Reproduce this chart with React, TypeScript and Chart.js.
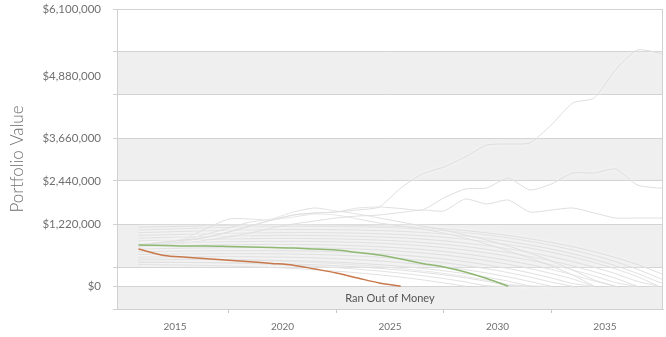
import React, { useEffect, useRef } from 'react';
import { Chart, registerables } from 'chart.js';

Chart.register(...registerables);

// x positions (years) of the yearly simulation points
const years = [2013.3, 2014.5, 2015.5, 2016.5, 2017.5, 2018.5, 2019.5, 2020.5, 2021.5, 2022.5, 2023.5, 2024.5, 2025.5,
  2026.5, 2027.5, 2028.5, 2029.5, 2030.5, 2031.5, 2032.5, 2033.5, 2034.5, 2035.5, 2036.5, 2037.5, 2038.5];

// highlighted scenarios, values in $ thousands
const medianK = [908, 897, 886, 886, 875, 864, 853, 842, 820, 798, 743, 688, 600, 501, 424, 314, 171, 0];
const worstK = [820, 675, 640, 607, 571, 538, 503, 464, 380, 292, 182, 72, 0];

// simulated scenarios (grey), values in $ thousands
const simA = [908, 974, 1018, 1084, 1194, 1326, 1458, 1568, 1612, 1634, 1678, 1744, 2162, 2470, 2624, 2844, 3108, 3130, 3152, 3548, 4032, 4142, 4769, 5198, 5132, 4978];
const simB = [886, 930, 996, 1084, 1194, 1326, 1458, 1568, 1612, 1634, 1722, 1744, 1711, 1678, 1942, 2140, 2162, 2382, 2118, 2250, 2492, 2492, 2580, 2228, 2162, 2162];
const simC = [864, 908, 952, 1018, 1084, 1172, 1282, 1370, 1436, 1502, 1546, 1568, 1623, 1678, 1656, 1920, 1810, 1898, 1634, 1678, 1722, 1612, 1502, 1502, 1502, 1502];
const simD = [908, 974, 1040, 1150, 1282, 1414, 1480, 1634, 1722, 1656, 1590, 1502, 1414, 1326, 1238, 1128, 1018, 886, 732, 556, 358, 138, 0];
const simE = [886, 952, 1062, 1282, 1480, 1480, 1458, 1524, 1590, 1568, 1480, 1392, 1326, 1260, 1172, 1062, 930, 776, 622, 446, 248, 0];
const sim01 = [1300, 1310, 1320, 1330, 1340, 1345, 1350, 1352, 1350, 1345, 1338, 1328, 1315, 1295, 1265, 1225, 1175, 1115, 1045, 965, 870, 760, 630, 480, 300, 100];
const sim02 = [1240, 1255, 1270, 1285, 1296, 1305, 1312, 1316, 1316, 1312, 1305, 1295, 1280, 1255, 1222, 1180, 1128, 1065, 990, 902, 800, 680, 540, 375, 185, 0];
const sim03 = [1180, 1195, 1210, 1222, 1232, 1240, 1246, 1250, 1250, 1246, 1238, 1226, 1210, 1186, 1152, 1108, 1054, 988, 910, 820, 715, 592, 450, 285, 95, 0];
const sim04 = [1120, 1132, 1144, 1155, 1164, 1172, 1178, 1181, 1180, 1176, 1168, 1156, 1139, 1114, 1080, 1036, 982, 917, 840, 750, 645, 522, 380, 215, 0];
const sim05 = [1060, 1072, 1084, 1095, 1104, 1111, 1116, 1118, 1116, 1110, 1100, 1086, 1066, 1038, 1000, 952, 894, 825, 744, 650, 542, 418, 276, 110, 0];
const sim06 = [1000, 1012, 1024, 1034, 1042, 1048, 1052, 1053, 1050, 1043, 1032, 1016, 994, 964, 924, 874, 813, 741, 657, 560, 448, 320, 175, 0];
const sim07 = [940, 952, 963, 972, 980, 986, 989, 990, 986, 978, 965, 948, 924, 892, 850, 798, 735, 660, 573, 473, 358, 228, 80, 0];
const sim08 = [880, 890, 900, 908, 914, 918, 920, 919, 914, 905, 890, 870, 844, 810, 766, 712, 646, 568, 477, 372, 252, 116, 0];
const sim09 = [820, 830, 839, 846, 851, 854, 855, 853, 847, 836, 820, 798, 770, 734, 688, 632, 564, 484, 390, 282, 160, 0];
const sim10 = [760, 768, 775, 780, 783, 784, 783, 779, 771, 758, 740, 716, 686, 648, 600, 542, 472, 390, 294, 184, 60, 0];
const sim11 = [700, 707, 713, 717, 719, 719, 716, 710, 700, 685, 665, 639, 607, 567, 518, 458, 386, 302, 204, 92, 0];
const sim12 = [640, 645, 649, 651, 651, 649, 644, 636, 624, 607, 585, 557, 522, 479, 427, 365, 292, 206, 106, 0];
const sim13 = [580, 584, 586, 586, 584, 580, 573, 563, 549, 530, 506, 476, 439, 394, 340, 276, 200, 112, 10, 0];
const sim14 = [520, 522, 522, 520, 516, 510, 501, 489, 473, 452, 426, 394, 355, 308, 252, 186, 108, 18, 0];
const sim15 = [600, 598, 594, 588, 580, 570, 557, 541, 521, 497, 468, 433, 391, 341, 283, 215, 136, 45, 0];
const sim16 = [540, 536, 530, 522, 512, 499, 483, 463, 439, 410, 376, 336, 289, 234, 170, 96, 10, 0];
const sim17 = [480, 475, 468, 459, 447, 432, 414, 392, 365, 333, 296, 252, 201, 142, 74, 0];

const simulations = [simA, simB, simC, simD, simE, sim01, sim02, sim03, sim04, sim05, sim06, sim07, sim08, sim09,
  sim10, sim11, sim12, sim13, sim14, sim15, sim16, sim17];

// y axis ticks (dollars)
const yTickValues = [6100000, 5154000, 4626000, 4208000, 3262000, 2316000, 1370000, 424000, 0, -500000];
const yTickLabels = ['$6,100,000', '', '$4,880,000', '', '$3,660,000', '$2,440,000', '$1,220,000', '', '$0', ''];
const yTickGrid = [true, true, false, true, true, true, true, true, true, true];
const yBands = [[4208000, 5154000], [2316000, 3262000], [424000, 1370000], [-500000, 0]];
const yMin = -500000;
const yMax = 6100000;

// x axis ticks
const xTickValues = [2015, 2017.5, 2020, 2022.5, 2025, 2027.5, 2030, 2032.5, 2035];
const xTickLabels = ['2015', '', '2020', '', '2025', '', '2030', '', '2035'];
const xMin = 2012.3;
const xMax = 2037.7;

const outOfMoneyText = 'Ran Out of Money';
const yTitle = 'Portfolio Value';

const toPoints = (vals: (number | null)[]) => vals.map((v, i) => ({ x: years[i], y: v === null ? null : v * 1000 }));

const bandsPlugin = {
  id: 'bands',
  beforeDraw(chart: any) {
    const { ctx, chartArea, scales } = chart;
    const y = scales.y;
    ctx.save();
    ctx.fillStyle = '#efefef';
    yBands.forEach(([lo, hi]) => {
      const top = y.getPixelForValue(hi);
      const bot = y.getPixelForValue(lo);
      ctx.fillRect(chartArea.left, top, chartArea.right - chartArea.left, bot - top);
    });
    ctx.restore();
  },
  afterDraw(chart: any) {
    const { ctx, chartArea, scales } = chart;
    const y = scales.y;
    ctx.save();
    ctx.strokeStyle = '#d0d0d0';
    ctx.lineWidth = 1;
    ctx.beginPath();
    ctx.moveTo(Math.round(chartArea.right) - 0.5, chartArea.top);
    ctx.lineTo(Math.round(chartArea.right) - 0.5, chartArea.bottom);
    ctx.stroke();
    ctx.fillStyle = '#555555';
    ctx.font = '11px Lato';
    ctx.textAlign = 'center';
    ctx.textBaseline = 'middle';
    const cy = (y.getPixelForValue(0) + y.getPixelForValue(yMin)) / 2 + 1;
    ctx.fillText(outOfMoneyText, (chartArea.left + chartArea.right) / 2, cy);
    ctx.restore();
  },
};

const glowPlugin = {
  id: 'glow',
  beforeDatasetDraw(chart: any, args: any) {
    const ds = chart.data.datasets[args.index];
    if (ds.glow) {
      chart.ctx.save();
      chart.ctx.shadowColor = 'rgba(255,255,255,1)';
      chart.ctx.shadowBlur = 4;
    }
  },
  afterDatasetDraw(chart: any, args: any) {
    const ds = chart.data.datasets[args.index];
    if (ds.glow) chart.ctx.restore();
  },
};

export default function App() {
  const ref = useRef<HTMLCanvasElement>(null);
  useEffect(() => {
    if (!ref.current) return;
    const datasets: any[] = [
      { data: toPoints(medianK), borderColor: '#8fb872', borderWidth: 1.5, tension: 0.3 },
      { data: toPoints(worstK), borderColor: '#c8784a', borderWidth: 1.5, tension: 0.3 },
      ...simulations.map((s) => ({ data: toPoints(s), borderColor: '#dedede', borderWidth: 1, tension: 0.2, glow: true })),
    ];
    const chart = new Chart(ref.current, {
      type: 'line',
      data: { datasets },
      plugins: [bandsPlugin, glowPlugin],
      options: {
        responsive: false,
        animation: false,
        events: [],
        layout: { padding: { top: 9, right: 3, bottom: 0, left: 0 } },
        elements: { point: { radius: 0 }, line: { fill: false } },
        plugins: { legend: { display: false }, tooltip: { enabled: false } },
        scales: {
          x: {
            type: 'linear',
            min: xMin,
            max: xMax,
            afterBuildTicks: (s: any) => { s.ticks = xTickValues.map((v) => ({ value: v })); },
            afterFit: (s: any) => { s.height = 28; s.paddingLeft = 0; s.paddingRight = 0; },
            grid: {
              drawOnChartArea: false,
              drawTicks: true,
              tickLength: 4,
              tickColor: (c: any) => (xTickLabels[c.index] === '' ? '#c8c8c8' : 'rgba(0,0,0,0)'),
            },
            border: { display: true, color: '#d0d0d0' },
            ticks: {
              autoSkip: false,
              maxRotation: 0,
              padding: 8,
              color: '#707070',
              font: { family: 'Lato', size: 10 },
              callback: (_v: any, i: number) => xTickLabels[i],
            },
          },
          y: {
            type: 'linear',
            min: yMin,
            max: yMax,
            afterBuildTicks: (s: any) => { s.ticks = yTickValues.map((v) => ({ value: v })); },
            afterFit: (s: any) => { s.width = 117; s.paddingTop = 0; s.paddingBottom = 0; },
            grid: {
              color: (c: any) => (yTickGrid[c.index] ? '#d3d3d3' : 'rgba(0,0,0,0)'),
              tickColor: (c: any) => (yTickGrid[c.index] ? '#d3d3d3' : 'rgba(0,0,0,0)'),
              tickLength: 4,
            },
            border: { display: true, color: '#d0d0d0' },
            ticks: {
              autoSkip: false,
              padding: 12,
              color: '#707070',
              font: { family: 'Lato', size: 11.5 },
              callback: (_v: any, i: number) => yTickLabels[i],
            },
            title: {
              display: true,
              text: yTitle,
              color: '#6e6e6e',
              font: { family: 'Lato', size: 17, weight: '300' },
              padding: { top: 7, bottom: 0 },
            },
          },
        },
      } as any,
    });
    return () => chart.destroy();
  }, []);
  return (
    <div style={{ position: 'absolute', left: 0, top: 0, width: 666, height: 337, background: '#ffffff' }}>
      <canvas ref={ref} width={666} height={337} style={{ width: 666, height: 337 }} />
    </div>
  );
}
